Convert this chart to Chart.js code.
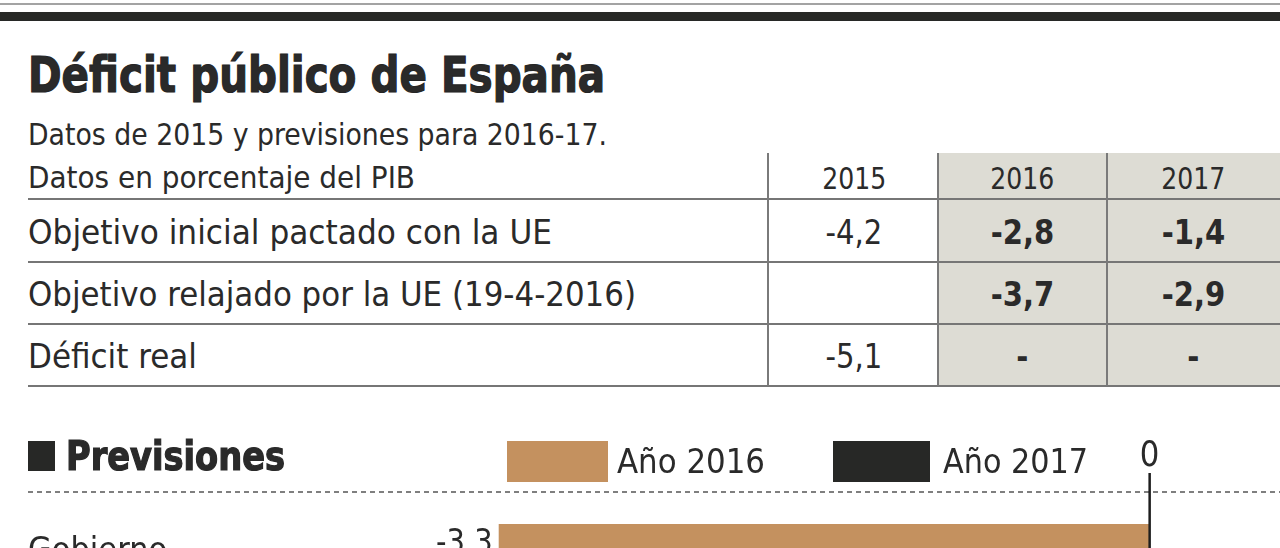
<!DOCTYPE html>
<html>
<head>
<meta charset="utf-8">
<script src="https://cdn.jsdelivr.net/npm/chart.js@4.4.1/dist/chart.umd.min.js"></script>
<style>
  html, body { margin: 0; padding: 0; background: #fff; }
  body {
    width: 1280px; height: 548px; overflow: hidden; position: relative;
    font-family: "Liberation Sans Narrow", "DejaVu Sans Condensed", sans-serif;
    color: #2a2a2a;
  }
  .t { position: absolute; white-space: nowrap; }
  .box { position: absolute; }
  #wrap { position: absolute; left: 0; top: 420px; width: 1280px; height: 260px; }
</style>
</head>
<body>
<div class="box" style="left:0;top:3px;width:1280px;height:2px;background:#a3a3a3"></div>
<div class="box" style="left:0;top:12px;width:1280px;height:9px;background:#272826"></div>
<div class="box" style="left:938px;top:153px;width:342px;height:233px;background:#dddcd4"></div>
<div id="wrap"><canvas id="prev" width="1280" height="260"></canvas></div>

<script>
// table
const tableYears = ["2015", "2016", "2017"];
const rowLabels = ["Objetivo inicial pactado con la UE", "Objetivo relajado por la UE (19-4-2016)", "Déficit real"];
const col2015 = ["-4,2", "", "-5,1"];
const col2016 = ["-2,8", "-3,7", "-"];
const col2017 = ["-1,4", "-2,9", "-"];

// chart
const categories = ["Gobierno"];
const seriesNames = ["Año 2016", "Año 2017"];
const prev2016 = [-3.3];
const prev2017 = [null];
const seriesColors = ["#c4915f", "#272826"];

const FONT = '"Liberation Sans Narrow", "DejaVu Sans Condensed", sans-serif';
const TITLE_FONT = '"DejaVu Sans Condensed", "Liberation Sans Narrow", sans-serif';

function put(txt, x, cy, size, o) {
  o = o || {};
  const d = document.createElement("div");
  d.className = "t";
  d.textContent = txt;
  d.style.fontSize = size + "px";
  d.style.lineHeight = size + "px";
  d.style.fontWeight = o.bold ? "bold" : "normal";
  if (o.font) d.style.fontFamily = o.font;
  if (o.stroke) d.style.webkitTextStroke = o.stroke + "px #262626";
  d.style.top = (cy - size / 2) + "px";
  document.body.appendChild(d);
  const w = d.getBoundingClientRect().width;
  const s = o.w ? o.w / w : (o.s || 1);
  const align = o.align || "left";
  let left = x;
  if (align === "center") left = x - w / 2;
  if (align === "right") left = x - w;
  d.style.left = left + "px";
  d.style.transformOrigin = align === "center" ? "50% 50%" : (align === "right" ? "100% 50%" : "0 50%");
  d.style.transform = "scaleX(" + s + ")";
  return d;
}

function line(x, y, w, h, c) {
  const d = document.createElement("div");
  d.className = "box";
  d.style.cssText = "left:" + x + "px;top:" + y + "px;width:" + w + "px;height:" + h + "px;background:" + c;
  document.body.appendChild(d);
}

put("Déficit público de España", 28, 75, 50, { bold: true, font: TITLE_FONT, w: 577, stroke: 1.2 });
put("Datos de 2015 y previsiones para 2016-17.", 28, 134, 31, { w: 579 });
put("Datos en porcentaje del PIB", 28, 178, 30, { w: 387 });

const colX = [854, 1022, 1193];
tableYears.forEach((y, i) => put(y, colX[i], 179, 30, { align: "center", w: 64 }));

const rowY = [232, 294, 356];
const rowW = [524, 608, 169];
rowLabels.forEach((r, i) => put(r, 28, rowY[i], 34, { w: rowW[i] }));
col2015.forEach((v, i) => { if (v) put(v, colX[0], rowY[i], 34, { align: "center", s: 0.95 }); });
col2016.forEach((v, i) => put(v, colX[1], rowY[i], 34, { align: "center", bold: true, s: 0.95 }));
col2017.forEach((v, i) => put(v, colX[2], rowY[i], 34, { align: "center", bold: true, s: 0.95 }));

[199, 262, 324, 386].forEach(y => line(28, y - 1, 1252, 2, "#767676"));
[768, 938, 1107].forEach(x => line(x - 1, 153, 2, 233, "#7a7a7a"));

// canvas helpers
function fitText(ctx, txt, x, cy, size, o) {
  o = o || {};
  ctx.save();
  ctx.font = (o.bold ? "bold " : "") + size + "px " + (o.font || FONT);
  ctx.fillStyle = o.color || "#2a2a2a";
  ctx.textBaseline = "alphabetic";
  const w = ctx.measureText(txt).width;
  const s = o.w ? o.w / w : (o.s || 1);
  const sw = w * s;
  let left = x;
  if (o.align === "center") left = x - sw / 2;
  if (o.align === "right") left = x - sw;
  ctx.translate(left, cy + size * 0.36);
  ctx.scale(s, 1);
  ctx.textAlign = "left";
  ctx.fillText(txt, 0, 0);
  if (o.stroke) {
    ctx.strokeStyle = ctx.fillStyle;
    ctx.lineWidth = o.stroke;
    ctx.strokeText(txt, 0, 0);
  }
  ctx.restore();
}

const decor = {
  id: "decor",
  beforeDraw(chart) {
    const ctx = chart.ctx;
    ctx.save();
    ctx.fillStyle = "#272826";
    ctx.fillRect(28, 21, 27, 30);
    fitText(ctx, "Previsiones", 66, 36, 40, { bold: true, font: TITLE_FONT, w: 219, stroke: 1.2 });
    const legX = [[507, 101, 617, 148], [833, 97, 943, 145]];
    chart.data.datasets.forEach((ds, i) => {
      ctx.fillStyle = ds.backgroundColor;
      ctx.fillRect(legX[i][0], 21, legX[i][1], 41);
      fitText(ctx, ds.label, legX[i][2], 41, 34, { w: legX[i][3] });
    });
    ctx.strokeStyle = "#555";
    ctx.lineWidth = 1.5;
    ctx.setLineDash([5, 4]);
    ctx.beginPath();
    ctx.moveTo(28, 72);
    ctx.lineTo(1280, 72);
    ctx.stroke();
    ctx.restore();
  },
  afterDatasetsDraw(chart) {
    const ctx = chart.ctx;
    const xs = chart.scales.x;
    const x0 = xs.getPixelForValue(0);
    chart.data.datasets.forEach((ds, i) => {
      chart.getDatasetMeta(i).data.forEach((bar, j) => {
        const v = ds.data[j];
        if (v === null || v === undefined) return;
        const txt = String(v).replace(".", ",");
        fitText(ctx, txt, bar.x - 6, bar.y - 3, 34, { align: "right", s: 0.95 });
      });
    });
    ctx.save();
    ctx.strokeStyle = "#1e1e1e";
    ctx.lineWidth = 2.5;
    ctx.beginPath();
    ctx.moveTo(x0, 53);
    ctx.lineTo(x0, chart.height);
    ctx.stroke();
    ctx.restore();
    fitText(ctx, "0", x0, 33, 36, { align: "center", s: 0.95 });
  }
};

new Chart(document.getElementById("prev"), {
  type: "bar",
  data: {
    labels: categories,
    datasets: [
      { label: seriesNames[0], data: prev2016, backgroundColor: seriesColors[0] },
      { label: seriesNames[1], data: prev2017, backgroundColor: seriesColors[1] }
    ]
  },
  options: {
    indexAxis: "y",
    responsive: false,
    animation: false,
    categoryPercentage: 0.6667,
    barPercentage: 1,
    layout: { padding: { top: 84, left: 28, right: 12, bottom: 56 } },
    scales: {
      x: { display: false, min: -4.5, max: 0.6 },
      y: {
        grid: { display: false },
        border: { display: false },
        afterFit: (scale) => { scale.width = 234; },
        ticks: {
          crossAlign: "far",
          padding: 0,
          labelOffset: -12,
          color: "#2a2a2a",
          font: { family: FONT, size: 34 }
        }
      }
    },
    plugins: {
      legend: { display: false },
      tooltip: { enabled: false }
    }
  },
  plugins: [decor]
});
</script>
</body>
</html>
